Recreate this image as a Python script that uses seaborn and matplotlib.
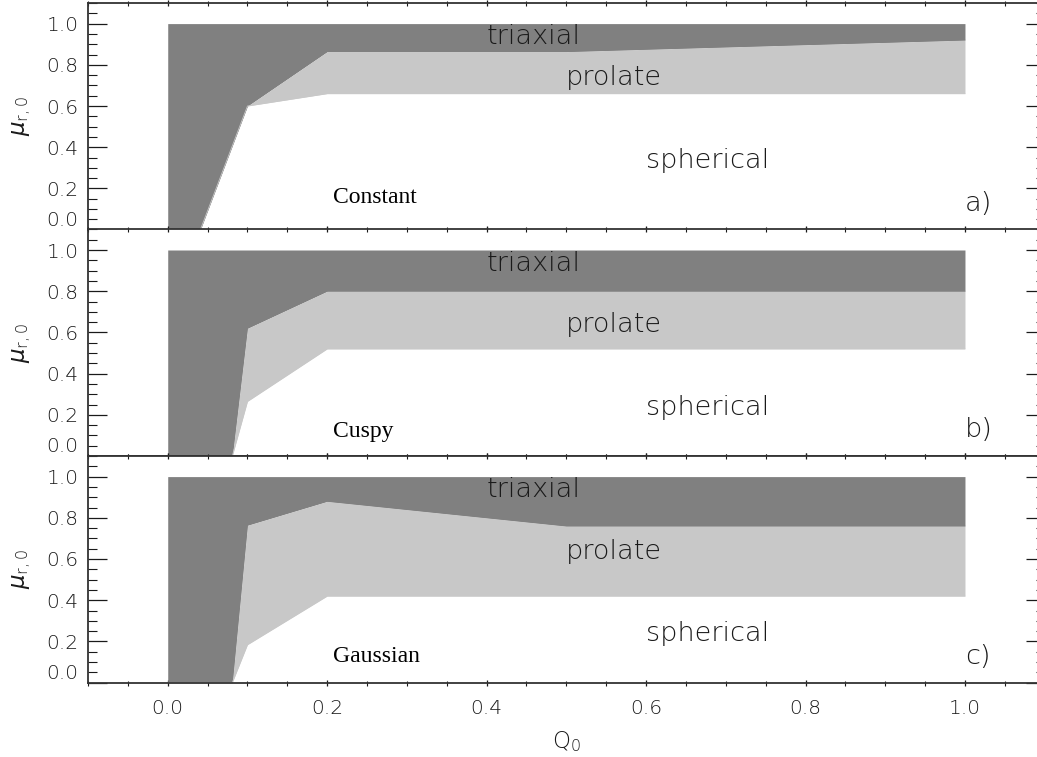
import matplotlib
matplotlib.use("Agg")
import matplotlib.pyplot as plt
import seaborn as sns
import pandas as pd
from matplotlib.ticker import MultipleLocator

# ---------------- data ----------------
q0_a = [0.0, 0.041, 0.1, 0.2, 0.5, 1.0]
sph_a = [0.0, 0.0, 0.60, 0.66, 0.66, 0.66]
pro_a = [0.0, 0.0, 0.60, 0.864, 0.864, 0.92]

q0_b = [0.0, 0.081, 0.1, 0.2, 1.0]
sph_b = [0.0, 0.0, 0.265, 0.52, 0.52]
pro_b = [0.0, 0.0, 0.62, 0.80, 0.80]

q0_c = [0.0, 0.081, 0.1, 0.2, 0.5, 1.0]
sph_c = [0.0, 0.0, 0.184, 0.42, 0.42, 0.42]
pro_c = [0.0, 0.0, 0.764, 0.88, 0.76, 0.76]

tri_top = 1.0
models = ["Constant", "Cuspy", "Gaussian"]
panel_tags = ["a)", "b)", "c)"]
regions = ["triaxial", "prolate", "spherical"]

# ---------------- style ----------------
sns.set_theme(style="ticks")
plt.rcParams["font.family"] = ["DejaVu Sans"]
plt.rcParams["mathtext.fontset"] = "custom"
plt.rcParams["mathtext.rm"] = "DejaVu Sans:light"
plt.rcParams["mathtext.it"] = "DejaVu Sans:italic:light"
plt.rcParams["mathtext.bf"] = "DejaVu Sans:bold"

DARK = "#808080"
LIGHT = "#c8c8c8"
INK = "#1a1a1a"
THIN = "light"

W, H = 1037, 757
fig = plt.figure(figsize=(W / 100, H / 100), dpi=100)

left_px, right_px = 88.0, 1044.7
tops_px = [3.0, 229.4, 456.0]
ph_px = 226.6

panels = [(q0_a, sph_a, pro_a), (q0_b, sph_b, pro_b), (q0_c, sph_c, pro_c)]
region_y = [[0.90, 0.70, 0.30], [0.90, 0.60, 0.20], [0.90, 0.60, 0.20]]
region_x = [0.40, 0.50, 0.60]
model_y = [0.127, 0.091, 0.10]

axes = []
for i, (x, s, p) in enumerate(panels):
    bottom = 1 - (tops_px[i] + ph_px) / H
    ax = fig.add_axes([left_px / W, bottom, (right_px - left_px) / W, ph_px / H])
    axes.append(ax)
    df = pd.DataFrame({"Q0": x, "sph": s, "pro": p})
    ax.fill_between(df["Q0"], df["pro"], tri_top, color=DARK, lw=0)
    ax.fill_between(df["Q0"], df["sph"], df["pro"], color=LIGHT, lw=0)
    sns.lineplot(data=df, x="Q0", y="pro", ax=ax, color=DARK, lw=0.6, estimator=None, sort=False)
    sns.lineplot(data=df, x="Q0", y="sph", ax=ax, color=LIGHT, lw=0.6, estimator=None, sort=False)

    ax.set_xlim(-0.1, 1.1)
    ax.set_ylim(0.0, 1.1)
    ax.xaxis.set_major_locator(MultipleLocator(0.2))
    ax.xaxis.set_minor_locator(MultipleLocator(0.05))
    ax.yaxis.set_minor_locator(MultipleLocator(0.05))
    ax.set_yticks([0.0, 0.2, 0.4, 0.6, 0.8, 1.0])
    ax.set_yticklabels(["0.0", "0.2", "0.4", "0.6", "0.8", "1.0"])
    ax.tick_params(axis="y", which="major", direction="in", length=13.5, width=0.9,
                   left=True, right=True, labelsize=14.5, pad=7, color=INK, labelcolor=INK)
    ax.tick_params(axis="y", which="minor", direction="in", length=6.5, width=0.8,
                   left=True, right=True, color=INK)
    ax.tick_params(axis="x", which="major", direction="inout", length=5, width=0.9,
                   top=True, bottom=True, labelsize=14.5, pad=9.5, color=INK, labelcolor=INK)
    ax.tick_params(axis="x", which="minor", direction="inout", length=3.6, width=0.8,
                   top=True, bottom=True, color=INK)
    for lab in ax.get_xticklabels() + ax.get_yticklabels():
        lab.set_fontweight(THIN)
    for sp in ax.spines.values():
        sp.set_linewidth(1.3)
        sp.set_color("#333333")
    ax.set_facecolor("white")

    # lowest y label nudged up as in the original
    t0 = ax.yaxis.get_major_ticks()[0]
    t0.label1.set_verticalalignment("bottom")

    ax.set_ylabel(r"$\mu_{\rm r,0}$", fontsize=16.5, color=INK)
    ax.yaxis.set_label_coords(-0.058, 0.5)
    if i < 2:
        ax.tick_params(axis="x", labelbottom=False)
        ax.set_xlabel("")
    else:
        ax.set_xlabel(r"Q$_{\rm 0}$", fontsize=16.5, color=INK, fontweight=THIN)
        ax.xaxis.set_label_coords(0.5, -0.205)

    for name, rx, ry in zip(regions, region_x, region_y[i]):
        ax.text(rx, ry, name, fontsize=19.5, fontweight=THIN, color=INK,
                ha="left", va="baseline")
    ax.text(1.0, 0.09, panel_tags[i], fontsize=19.5, fontweight=THIN, color=INK,
            ha="left", va="baseline")
    ax.text(0.207, model_y[i], models[i], family="Liberation Serif", fontsize=17,
            fontweight="normal", color="black", ha="left", va="baseline")

fig.savefig("out.png", dpi=100)
